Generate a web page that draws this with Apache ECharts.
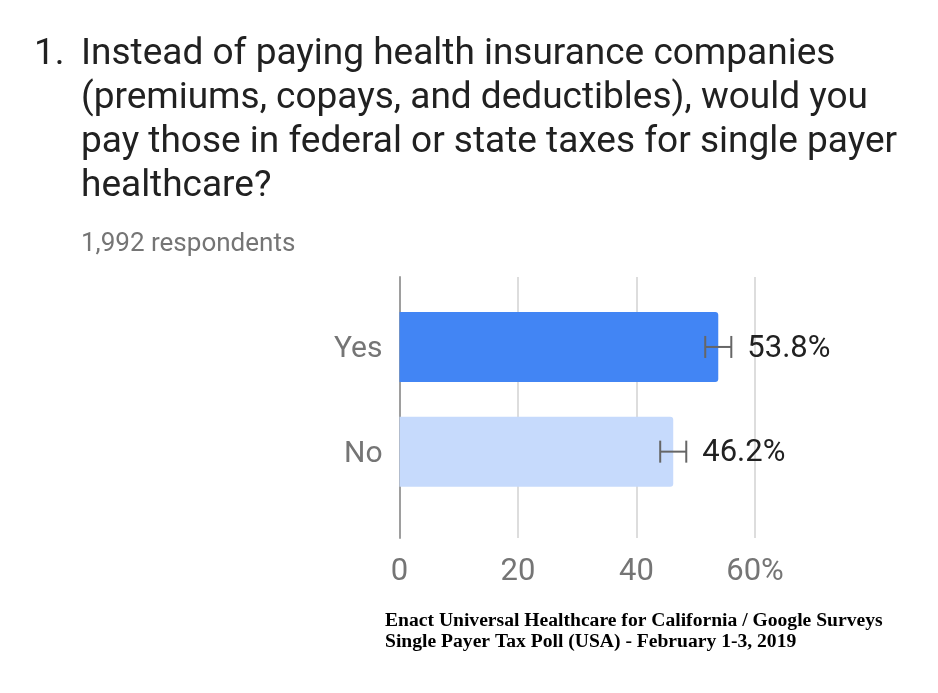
<!DOCTYPE html>
<html>
<head>
<meta charset="utf-8">
<script src="https://cdn.jsdelivr.net/npm/echarts@6/dist/echarts.min.js"></script>
<style>
  html, body { margin: 0; padding: 0; background: #fff; }
  #main { width: 938px; height: 693px; }
</style>
</head>
<body>
<div id="main"></div>
<script>
var categories = ['Yes', 'No'];
var percents = [53.8, 46.2];
var errorMargin = [2.2, 2.2];
var barColors = ['#4285f4', '#c6dafc'];
var xTicks = [0, 20, 40, 60];

var titleLines = [
  'Instead of paying health insurance companies',
  '(premiums, copays, and deductibles), would you',
  'pay those in federal or state taxes for single payer',
  'healthcare?'
];
var respondents = '1,992 respondents';
var footerLines = [
  'Enact Universal Healthcare for California / Google Surveys',
  'Single Payer Tax Poll (USA) - February 1-3, 2019'
];

var chart = echarts.init(document.getElementById('main'));

var errData = categories.map(function (c, i) {
  return [i, percents[i] - errorMargin[i], percents[i] + errorMargin[i], percents[i]];
});

var option = {
  animation: false,
  backgroundColor: '#fff',
  textStyle: { fontFamily: 'Roboto' },
  title: [
    {
      text: '1.',
      left: 34, top: 33, padding: 0,
      textStyle: { fontFamily: 'Roboto', fontSize: 37, fontWeight: 'normal', color: '#212121', lineHeight: 44 }
    },
    {
      text: titleLines.join('\n'),
      left: 81, top: 33, padding: 0,
      textStyle: { fontFamily: 'Roboto', fontSize: 37, fontWeight: 'normal', color: '#212121', lineHeight: 44 }
    },
    {
      text: respondents,
      left: 81, top: 231, padding: 0,
      textStyle: { fontFamily: 'Roboto', fontSize: 26, fontWeight: 'normal', color: '#757575' }
    },
    {
      text: footerLines.join('\n'),
      left: 385, top: 610, padding: 0,
      textStyle: { fontFamily: 'Liberation Serif', fontSize: 19.6, fontWeight: 'bold', color: '#000', lineHeight: 21 }
    }
  ],
  grid: [
    { left: 399.5, right: 183, top: 277, bottom: 155 },
    { left: 399.5, right: 183, top: 294.6, bottom: 189 }
  ],
  xAxis: [
    {
      gridIndex: 0, type: 'value', min: 0, max: 60, interval: 20,
      axisLine: { show: false }, axisTick: { show: false },
      splitLine: { show: true, lineStyle: { color: '#dddddd', width: 2 } },
      axisLabel: {
        margin: 19, fontSize: 31, color: '#757575', fontFamily: 'Roboto',
        formatter: function (v) { return v === xTicks[xTicks.length - 1] ? v + '%' : String(v); }
      }
    },
    {
      gridIndex: 1, type: 'value', min: 0, max: 60, show: false
    }
  ],
  yAxis: [
    {
      gridIndex: 0, type: 'category', data: [''],
      axisLine: { show: true, lineStyle: { color: '#9e9e9e', width: 2 } },
      axisTick: { show: false }, axisLabel: { show: false }, splitLine: { show: false }
    },
    {
      gridIndex: 1, type: 'category', data: categories, inverse: true,
      axisLine: { show: false }, axisTick: { show: false },
      axisLabel: {
        margin: 17,
        formatter: function (v) { return '{c|' + v + '}'; },
        rich: {
          c: { fontSize: 30, color: '#757575', fontFamily: 'Roboto', padding: [6, 0, 0, 0] }
        }
      }
    }
  ],
  series: [
    {
      type: 'bar',
      xAxisIndex: 1, yAxisIndex: 1,
      barWidth: 70,
      z: 2,
      data: percents.map(function (v, i) {
        return { value: v, itemStyle: { color: barColors[i], borderRadius: [0, 3, 3, 0] } };
      })
    },
    {
      type: 'custom',
      xAxisIndex: 1, yAxisIndex: 1,
      z: 10,
      data: errData,
      renderItem: function (params, api) {
        var idx = api.value(0);
        var lo = api.coord([api.value(1), idx]);
        var hi = api.coord([api.value(2), idx]);
        var y = lo[1];
        var cap = 11;
        var style = { stroke: '#666666', lineWidth: 2 };
        return {
          type: 'group',
          children: [
            { type: 'line', shape: { x1: lo[0], y1: y, x2: hi[0], y2: y }, style: style },
            { type: 'line', shape: { x1: lo[0], y1: y - cap, x2: lo[0], y2: y + cap }, style: style },
            { type: 'line', shape: { x1: hi[0], y1: y - cap, x2: hi[0], y2: y + cap }, style: style },
            {
              type: 'text',
              style: {
                x: hi[0] + 16, y: y + 2,
                text: api.value(3).toFixed(1) + '%',
                fill: '#212121', fontSize: 31, fontFamily: 'Roboto',
                verticalAlign: 'middle', align: 'left'
              }
            }
          ]
        };
      }
    }
  ]
};

chart.setOption(option);
</script>
</body>
</html>
